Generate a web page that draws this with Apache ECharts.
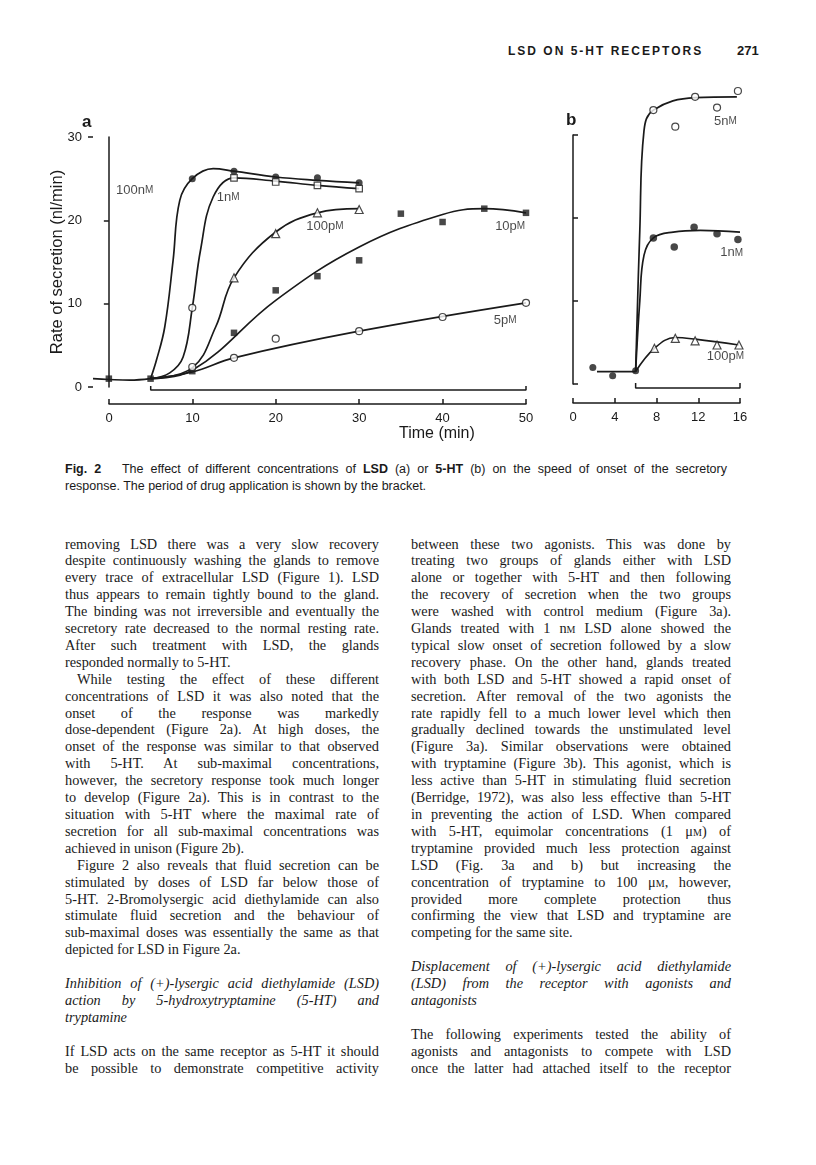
<!DOCTYPE html>
<html>
<head>
<meta charset="utf-8">
<script src="https://cdn.jsdelivr.net/npm/echarts@6/dist/echarts.min.js"></script>
<style>
  body { margin: 0; background: #fff; width: 816px; height: 1165px; position: relative; overflow: hidden; color: #1a1a1a; }
  #chart { position: absolute; left: 0; top: 0; width: 816px; height: 450px; }
  .hdr { position: absolute; top: 44px; font-family: 'Liberation Sans', Arial, sans-serif; font-weight: bold; font-size: 12px; letter-spacing: 2px; }
  .pg { position: absolute; top: 43px; left: 737px; font-family: 'Liberation Sans', Arial, sans-serif; font-weight: bold; font-size: 13px; }
  .cap { position: absolute; left: 65px; top: 461px; width: 662px; font-family: 'Liberation Sans', Arial, sans-serif; font-size: 12.5px; line-height: 17px; }
  .cap div, .col div { text-align: justify; text-align-last: justify; }
  .cap div.e, .col div.e { text-align-last: left; }
  .col { position: absolute; top: 535.5px; font-family: 'Liberation Serif', 'Times New Roman', serif; font-size: 14.3px; line-height: 16.9px; }
  .c1 { left: 65px; width: 314px; }
  .c2 { left: 411px; width: 320px; }
  .col div.i { text-indent: 12px; }
  .col div.it { font-style: italic; }
  .sc { font-variant: small-caps; }
</style>
</head>
<body>
<div class="hdr" style="left:508px">LSD ON 5-HT RECEPTORS</div>
<div class="pg">271</div>
<div id="chart"></div>

<div class="cap">
  <div><b>Fig. 2</b>&nbsp;&nbsp; The effect of different concentrations of <b>LSD</b> (a) or <b>5-HT</b> (b) on the speed of onset of the secretory</div>
  <div class="e">response. The period of drug application is shown by the bracket.</div>
</div>

<div class="col c1">
  <div>removing LSD there was a very slow recovery</div>
  <div>despite continuously washing the glands to remove</div>
  <div>every trace of extracellular LSD (Figure 1). LSD</div>
  <div>thus appears to remain tightly bound to the gland.</div>
  <div>The binding was not irreversible and eventually the</div>
  <div>secretory rate decreased to the normal resting rate.</div>
  <div>After such treatment with LSD, the glands</div>
  <div class="e">responded normally to 5-HT.</div>
  <div class="i">While testing the effect of these different</div>
  <div>concentrations of LSD it was also noted that the</div>
  <div>onset of the response was markedly</div>
  <div>dose-dependent (Figure 2a). At high doses, the</div>
  <div>onset of the response was similar to that observed</div>
  <div>with 5-HT. At sub-maximal concentrations,</div>
  <div>however, the secretory response took much longer</div>
  <div>to develop (Figure 2a). This is in contrast to the</div>
  <div>situation with 5-HT where the maximal rate of</div>
  <div>secretion for all sub-maximal concentrations was</div>
  <div class="e">achieved in unison (Figure 2b).</div>
  <div class="i">Figure 2 also reveals that fluid secretion can be</div>
  <div>stimulated by doses of LSD far below those of</div>
  <div>5-HT. 2-Bromolysergic acid diethylamide can also</div>
  <div>stimulate fluid secretion and the behaviour of</div>
  <div>sub-maximal doses was essentially the same as that</div>
  <div class="e">depicted for LSD in Figure 2a.</div>
  <div class="e">&nbsp;</div>
  <div class="it">Inhibition of (+)-lysergic acid diethylamide (LSD)</div>
  <div class="it">action by 5-hydroxytryptamine (5-HT) and</div>
  <div class="it e">tryptamine</div>
  <div class="e">&nbsp;</div>
  <div>If LSD acts on the same receptor as 5-HT it should</div>
  <div>be possible to demonstrate competitive activity</div>
</div>

<div class="col c2">
  <div>between these two agonists. This was done by</div>
  <div>treating two groups of glands either with LSD</div>
  <div>alone or together with 5-HT and then following</div>
  <div>the recovery of secretion when the two groups</div>
  <div>were washed with control medium (Figure 3a).</div>
  <div>Glands treated with 1 n<span class="sc">m</span> LSD alone showed the</div>
  <div>typical slow onset of secretion followed by a slow</div>
  <div>recovery phase. On the other hand, glands treated</div>
  <div>with both LSD and 5-HT showed a rapid onset of</div>
  <div>secretion. After removal of the two agonists the</div>
  <div>rate rapidly fell to a much lower level which then</div>
  <div>gradually declined towards the unstimulated level</div>
  <div>(Figure 3a). Similar observations were obtained</div>
  <div>with tryptamine (Figure 3b). This agonist, which is</div>
  <div>less active than 5-HT in stimulating fluid secretion</div>
  <div>(Berridge, 1972), was also less effective than 5-HT</div>
  <div>in preventing the action of LSD. When compared</div>
  <div>with 5-HT, equimolar concentrations (1 μ<span class="sc">m</span>) of</div>
  <div>tryptamine provided much less protection against</div>
  <div>LSD (Fig. 3a and b) but increasing the</div>
  <div>concentration of tryptamine to 100 μ<span class="sc">m</span>, however,</div>
  <div>provided more complete protection thus</div>
  <div>confirming the view that LSD and tryptamine are</div>
  <div class="e">competing for the same site.</div>
  <div class="e">&nbsp;</div>
  <div class="it">Displacement of (+)-lysergic acid diethylamide</div>
  <div class="it">(LSD) from the receptor with agonists and</div>
  <div class="it e">antagonists</div>
  <div class="e">&nbsp;</div>
  <div>The following experiments tested the ability of</div>
  <div>agonists and antagonists to compete with LSD</div>
  <div>once the latter had attached itself to the receptor</div>
</div>

<script>
// ---- panel a: LSD (time in min, rate in nl/min) ----
const lsdPeriod = [5, 50]
const aCurveNames = ['100nM', '1nM', '100pM', '10pM', '5pM']

// measured points
const a100nMPts = [[10, 25], [15, 25.9], [20, 25.2], [25, 25.1], [30, 24.5]]
const a1nMPts = [[15, 25.1], [20, 24.6], [25, 24.2], [30, 23.8]]
const a100pMPts = [[15, 13.1], [20, 18.4], [25, 20.9], [30, 21.3]]
const a10pMPts = [[0, 1], [5, 1], [10, 1.9], [15, 6.5], [20, 11.6], [25, 13.3], [30, 15.2], [35, 20.8], [40, 19.8], [45, 21.4], [50, 20.9]]
const aOpenCirclePts = [[10, 9.5], [10, 2.4], [15, 3.5], [20, 5.8], [30, 6.7], [40, 8.4], [50, 10.1]]

// hand-drawn curves
const aBaseCurve = [[-1.9, 1.0], [0, 0.9], [2.5, 0.82], [5, 1.0]]
const a100nMCurve = [[5, 1], [5.7, 3.2], [6.7, 7.2], [7.7, 15.2], [8.5, 22.4], [10, 25], [12.5, 26.2], [15, 25.9], [20, 25.2], [25, 24.8], [30, 24.5]]
const a1nMCurve = [[5, 1], [7.3, 1.7], [8.9, 3.6], [10, 9.5], [11, 16.5], [12.5, 22.8], [15, 25.1], [20, 24.7], [25, 24.2], [30, 23.8]]
const a100pMCurve = [[5, 1], [10, 2.3], [12.8, 7.2], [15, 13.1], [20, 18.6], [25, 20.9], [30, 21.4]]
const a10pMCurve = [[5, 1], [10, 2], [20, 10.4], [30, 16.8], [40, 20.7], [45, 21.4], [50, 20.9]]
const a5pMCurve = [[5, 1], [10, 1.8], [15, 3.5], [30, 6.7], [50, 10.1]]

// ---- panel b: 5-HT ----
const htPeriod = [6, 16]
const bCurveNames = ['5nM', '1nM', '100pM']

const bBasePts = [[1.9, 2.0], [3.8, 1.0], [6.0, 1.6]]
const b5nMPts = [[7.7, 33], [9.8, 31], [11.7, 34.6], [13.8, 33.3], [15.8, 35.3]]
const b1nMPts = [[7.7, 17.6], [9.7, 16.5], [11.6, 18.9], [13.8, 18.1], [15.8, 17.4]]
const b100pMPts = [[7.8, 4.3], [9.8, 5.5], [11.7, 5.2], [13.8, 4.7], [15.9, 4.7]]

const bBaseCurve = [[2.3, 1.5], [6, 1.5]]
const b5nMCurve = [[6, 1.5], [6.4, 18.5], [6.8, 30.5], [7.7, 33], [11.7, 34.5], [15.7, 34.6]]
const b1nMCurve = [[6, 1.5], [6.4, 10], [6.8, 15.5], [7.7, 17.6], [9.6, 18.3], [12.2, 18.5], [16, 18.3]]
const b100pMCurve = [[6, 1.5], [7.8, 4.3], [9.8, 5.6], [11.7, 5.4], [15.9, 4.7]]

const INK = '#1a1a1a'
const FONT = "'Liberation Sans', Arial, sans-serif"

const chart = echarts.init(document.getElementById('chart'), null, { renderer: 'canvas' })

const curve = (data, xi, yi) => ({
  type: 'line', xAxisIndex: xi, yAxisIndex: yi, data,
  smooth: 0.4, showSymbol: false, clip: false,
  lineStyle: { color: INK, width: 1.7 }, silent: true, z: 2
})

// filled / open markers
const marks = (data, xi, yi, symbol, size, open) => ({
  type: 'scatter', xAxisIndex: xi, yAxisIndex: yi, data, symbol, symbolSize: size, clip: false,
  itemStyle: open ? { color: '#fff', borderColor: INK, borderWidth: 1.2 } : { color: INK },
  silent: true, z: 4
})

// bracket showing the drug application period
const bracket = (period, xi, yi, lineY, tipY) => ({
  type: 'line', xAxisIndex: xi, yAxisIndex: yi, showSymbol: false, silent: true,
  data: [[period[0], tipY], [period[0], lineY], [period[1], lineY], [period[1], tipY]],
  lineStyle: { color: INK, width: 1.5 }
})

const unitLabel = (name) => {
  const m = name.match(/^(\d+)(\w)M$/)
  return '{n|' + m[1] + m[2] + '}{u|M}'
}

const labelSeries = (items, xi, yi) => ({
  type: 'scatter', xAxisIndex: xi, yAxisIndex: yi, symbolSize: 0, silent: true, clip: false,
  data: items.map(it => ({ value: it.at, name: it.name })),
  label: {
    show: true, position: 'inside', color: INK,
    formatter: p => unitLabel(p.name),
    rich: { n: { fontFamily: FONT, fontSize: 13, color: INK }, u: { fontFamily: FONT, fontSize: 10, color: INK } }
  }
})

const axisLineStyle = { lineStyle: { color: INK, width: 1.5 } }

const option = {
  animation: false,
  grid: [
    { left: 88, top: 137, width: 438, height: 250 },
    { left: 109, top: 376, width: 417, height: 28 },
    { left: 573, top: 135, width: 167, height: 249 },
    { left: 573, top: 375, width: 167, height: 28 }
  ],
  xAxis: [
    { gridIndex: 0, type: 'value', min: -2.5, max: 50, show: false },
    {
      gridIndex: 1, type: 'value', min: 0, max: 50, interval: 10,
      axisLine: axisLineStyle, splitLine: { show: false },
      axisTick: { inside: true, length: 5, lineStyle: { color: INK, width: 1.5 } },
      axisLabel: { margin: 8, color: INK, fontFamily: FONT, fontSize: 13 }
    },
    { gridIndex: 2, type: 'value', min: 0, max: 16, show: false },
    {
      gridIndex: 3, type: 'value', min: 0, max: 16, interval: 4,
      axisLine: axisLineStyle, splitLine: { show: false },
      axisTick: { inside: true, length: 5, lineStyle: { color: INK, width: 1.5 } },
      axisLabel: { margin: 8, color: INK, fontFamily: FONT, fontSize: 13 }
    }
  ],
  yAxis: [
    {
      gridIndex: 0, type: 'value', min: 0, max: 30, interval: 10,
      axisLine: { show: true, ...axisLineStyle }, splitLine: { show: false },
      axisTick: { show: true, length: 5, customValues: [10, 20], lineStyle: { color: INK, width: 1.5 } },
      axisLabel: { margin: 6, color: INK, fontFamily: FONT, fontSize: 13 },
      name: 'Rate of secretion (nl/min)', nameLocation: 'middle', nameGap: 22, nameRotate: 90,
      nameMoveOverlap: false,
      nameTextStyle: { color: INK, fontFamily: FONT, fontSize: 16.5 }
    },
    {
      gridIndex: 0, type: 'value', min: 0, max: 30, interval: 10, position: 'left',
      axisLine: { show: false }, splitLine: { show: false }, axisLabel: { show: false },
      axisTick: { show: true, inside: true, length: 5, customValues: [0, 30], lineStyle: { color: INK, width: 1.5 } }
    },
    { gridIndex: 1, type: 'value', min: 0, max: 28, show: false },
    {
      gridIndex: 2, type: 'value', min: 0, max: 30, interval: 10,
      axisLine: { show: true, ...axisLineStyle }, splitLine: { show: false }, axisLabel: { show: false },
      axisTick: { show: true, inside: true, length: 5, lineStyle: { color: INK, width: 1.5 } }
    },
    { gridIndex: 3, type: 'value', min: 0, max: 28, show: false }
  ],
  graphic: [
    { type: 'text', left: 82, top: 114, style: { text: 'a', font: "bold 17px " + FONT, fill: INK } },
    { type: 'text', left: 566, top: 112, style: { text: 'b', font: "bold 17px " + FONT, fill: INK } },
    { type: 'text', left: 399, top: 426, style: { text: 'Time (min)', font: "16px " + FONT, fill: INK } }
  ],
  series: [
    curve(aBaseCurve, 0, 0),
    curve(a100nMCurve, 0, 0),
    curve(a1nMCurve, 0, 0),
    curve(a100pMCurve, 0, 0),
    curve(a10pMCurve, 0, 0),
    curve(a5pMCurve, 0, 0),
    marks(a100nMPts, 0, 0, 'circle', 7, false),
    marks(a1nMPts, 0, 0, 'rect', 6.5, true),
    marks(a100pMPts, 0, 0, 'triangle', 8, true),
    marks(a10pMPts, 0, 0, 'rect', 6.5, false),
    marks(aOpenCirclePts, 0, 0, 'circle', 7, true),
    labelSeries([
      { name: aCurveNames[0], at: [3.1, 23.6] },
      { name: aCurveNames[1], at: [14.3, 22.8] },
      { name: aCurveNames[2], at: [25.9, 19.3] },
      { name: aCurveNames[3], at: [48.1, 19.3] },
      { name: aCurveNames[4], at: [47.5, 8.0] }
    ], 0, 0),
    {
      ...bracket(lsdPeriod, 1, 2, 14, 18),
      markPoint: {
        symbol: 'none', silent: true,
        data: [{ coord: [24, 24], label: { show: true, formatter: 'LSD', color: INK, fontFamily: FONT, fontSize: 13 } }]
      }
    },

    curve(bBaseCurve, 2, 3),
    curve(b5nMCurve, 2, 3),
    curve(b1nMCurve, 2, 3),
    curve(b100pMCurve, 2, 3),
    marks(bBasePts, 2, 3, 'circle', 7, false),
    marks(b5nMPts, 2, 3, 'circle', 7, true),
    marks(b1nMPts, 2, 3, 'circle', 7.5, false),
    marks(b100pMPts, 2, 3, 'triangle', 8, true),
    labelSeries([
      { name: bCurveNames[0], at: [14.6, 31.6] },
      { name: bCurveNames[1], at: [15.2, 15.8] },
      { name: bCurveNames[2], at: [14.6, 3.3] }
    ], 2, 3),
    {
      ...bracket(htPeriod, 3, 4, 15, 20),
      markPoint: {
        symbol: 'none', silent: true,
        data: [{ coord: [11, 25], label: { show: true, formatter: '5-HT', color: INK, fontFamily: FONT, fontSize: 14 } }]
      }
    }
  ]
}

chart.setOption(option)
</script>
</body>
</html>
